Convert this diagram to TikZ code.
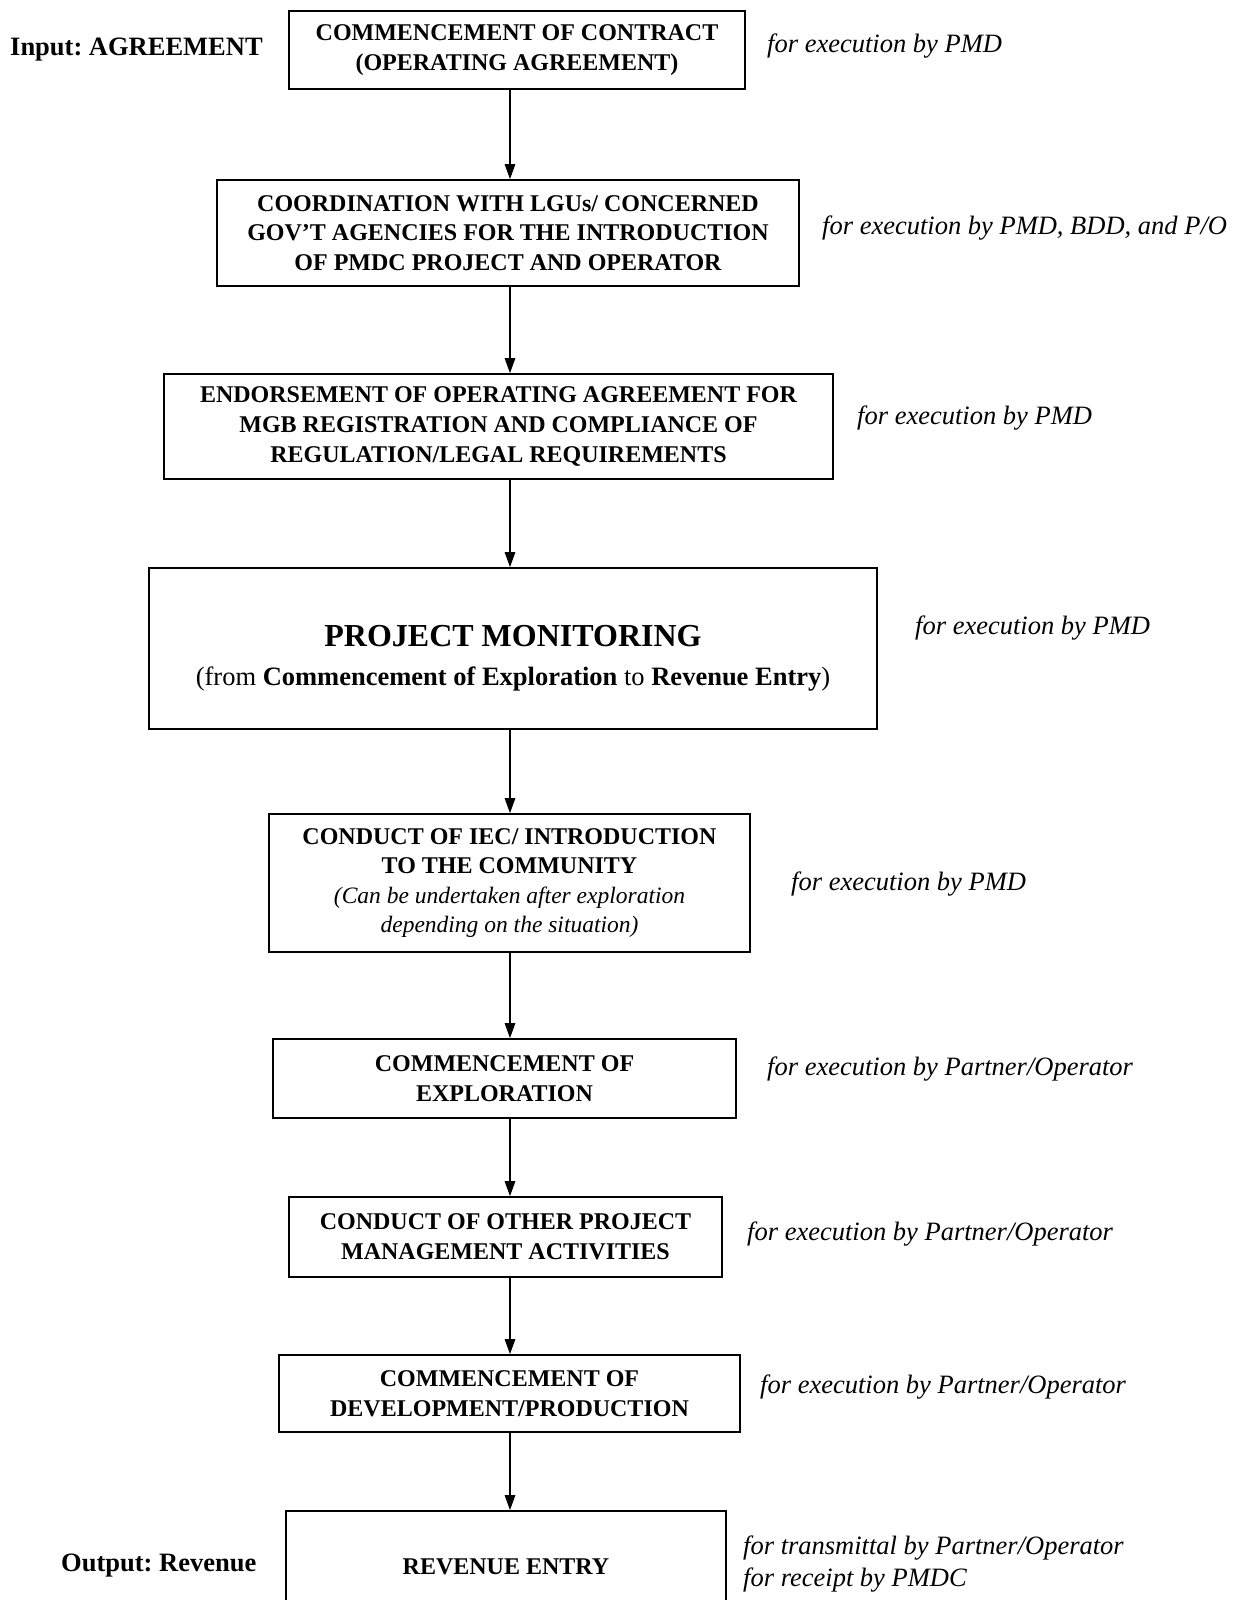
\documentclass[tikz,border=0pt]{standalone}
\usepackage{fontspec}
\setmainfont{Liberation Serif}
\usetikzlibrary{arrows.meta}
\begin{document}
\frenchspacing
\begin{tikzpicture}[x=1pt,y=-1pt,
  stepbox/.style={draw, line width=1.7pt, align=center, inner sep=0pt,
    font=\fontsize{24}{29.6}\selectfont\bfseries},
  flow/.style={line width=1.3pt, -{Triangle[length=15pt,width=10.5pt]}},
  note/.style={anchor=west, inner sep=0pt, align=left,
    font=\fontsize{26.5}{32}\selectfont\itshape},
  side/.style={anchor=west, inner sep=0pt,
    font=\fontsize{26.5}{32}\selectfont\bfseries}]
\useasboundingbox (0,0) rectangle (1251,1600);
\clip (0,0) rectangle (1251,1600);
\fill[white] (0,0) rectangle (1251,1600);

% vertical axis of the flow arrows
\coordinate (axis) at (510,0);

% process steps
\node[stepbox, minimum width=456pt, minimum height=78pt] (b1) at (517,50)
  {COMMENCEMENT OF CONTRACT\\(OPERATING AGREEMENT)};
\node[stepbox, minimum width=582pt, minimum height=106pt] (b2) at (508,233)
  {COORDINATION WITH LGUs/ CONCERNED\\GOV'T AGENCIES FOR THE INTRODUCTION\\OF PMDC PROJECT AND OPERATOR};
\node[stepbox, minimum width=669pt, minimum height=105pt] (b3) at (498.5,426.5)
  {ENDORSEMENT OF OPERATING AGREEMENT FOR\\MGB REGISTRATION AND COMPLIANCE OF\\REGULATION/LEGAL REQUIREMENTS};
\node[stepbox, minimum width=728pt, minimum height=161pt] (b4) at (513,648.5) {};
\node[align=center, inner sep=0pt, font=\fontsize{26.5}{39}\selectfont] (b4t) at (513,658)
  {{\fontsize{32}{39}\selectfont\bfseries PROJECT MONITORING}\\
   (from \textbf{Commencement of Exploration} to \textbf{Revenue Entry})};
\node[stepbox, minimum width=481pt, minimum height=138pt] (b5) at (509.5,883)
  {CONDUCT OF IEC/ INTRODUCTION\\TO THE COMMUNITY\\
   {\fontsize{23.5}{28.5}\selectfont\mdseries\itshape (Can be undertaken after exploration}\\
   {\fontsize{23.5}{28.5}\selectfont\mdseries\itshape depending on the situation)}};
\node[stepbox, minimum width=463pt, minimum height=79pt] (b6) at (504.5,1078.5)
  {COMMENCEMENT OF\\EXPLORATION};
\node[stepbox, minimum width=433pt, minimum height=80pt] (b7) at (505.5,1237)
  {CONDUCT OF OTHER PROJECT\\MANAGEMENT ACTIVITIES};
\node[stepbox, minimum width=461pt, minimum height=77pt] (b8) at (509.5,1393.5)
  {COMMENCEMENT OF\\DEVELOPMENT/PRODUCTION};
\node[stepbox, minimum width=440pt, minimum height=112pt] (b9) at (506,1567)
  {REVENUE ENTRY};

% flow arrows
\draw[flow] (b1.south -| axis) -- (b2.north -| axis);
\draw[flow] (b2.south -| axis) -- (b3.north -| axis);
\draw[flow] (b3.south -| axis) -- (b4.north -| axis);
\draw[flow] (b4.south -| axis) -- (b5.north -| axis);
\draw[flow] (b5.south -| axis) -- (b6.north -| axis);
\draw[flow] (b6.south -| axis) -- (b7.north -| axis);
\draw[flow] (b7.south -| axis) -- (b8.north -| axis);
\draw[flow] (b8.south -| axis) -- (b9.north -| axis);

% input and output
\node[side] (in) at (10,50) {Input: AGREEMENT};
\node[side] (out) at (61,1566) {Output: Revenue};

% responsibilities
\node[note] (r1) at (767,46) {for execution by PMD};
\node[note] (r2) at (822,228) {for execution by PMD, BDD, and P/O};
\node[note] (r3) at (857,418) {for execution by PMD};
\node[note] (r4) at (915,628) {for execution by PMD};
\node[note] (r5) at (791,884) {for execution by PMD};
\node[note] (r6) at (767,1069) {for execution by Partner/Operator};
\node[note] (r7) at (747,1234) {for execution by Partner/Operator};
\node[note] (r8) at (760,1387) {for execution by Partner/Operator};
\node[note] (r9) at (743,1564) {for transmittal by Partner/Operator\\for receipt by PMDC};
\end{tikzpicture}
\end{document}
